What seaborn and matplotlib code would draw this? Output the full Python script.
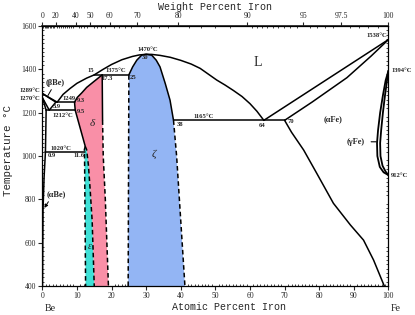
import numpy as np
import pandas as pd
import matplotlib
matplotlib.use("Agg")
import matplotlib.pyplot as plt
import seaborn as sns

# ---------------- data (atomic % Fe, temperature in °C) ----------------
y_ticks = [400, 600, 800, 1000, 1200, 1400, 1600]
x_ticks = [0, 10, 20, 30, 40, 50, 60, 70, 80, 90, 100]
wt_ticks = [0, 20, 40, 50, 60, 70, 80, 90, 95, 97.5, 100]
wt_tick_labels = ["0", "20", "40", "50", "60", "70", "80", "90", "95", "97.5", "100"]

liq_be_x = [0, 2.0, 4.3]
liq_be_T = [1289, 1270, 1249]
liq_mid_x = [4.3, 6, 8, 10, 12.8, 15, 17.5, 20, 23, 26, 28, 30, 31.6, 34, 37, 40, 43, 45.6, 48, 50.4, 52.8, 55.2, 57.7, 60, 62, 64]
liq_mid_T = [1249, 1285, 1312, 1336, 1360, 1375, 1400, 1423, 1445, 1460, 1467, 1470, 1469.5, 1465, 1456, 1442, 1425, 1405, 1378, 1351, 1328, 1303, 1275, 1242, 1207, 1165]
liq_fe_x = [64, 100]
liq_fe_T = [1165, 1538]
sol_fe_x = [70, 78, 88, 95, 100]
sol_fe_T = [1165, 1250, 1362, 1462, 1538]
afe_solvus_x = [70, 72, 75.5, 79.3, 84.1, 89, 92.8, 95.7, 98.8]
afe_solvus_T = [1165, 1110, 1028, 920, 782, 682, 612, 520, 400]
gam_out_x = [100, 99.2, 98.4, 97.6, 97.0, 96.7, 96.8, 97.5, 98.6, 100]
gam_out_T = [1394, 1350, 1280, 1200, 1120, 1060, 1000, 950, 925, 912]
gam_in_x = [100, 99.6, 99.0, 98.4, 97.9, 97.6, 97.7, 98.3, 99.2, 100]
gam_in_T = [1394, 1350, 1280, 1200, 1120, 1060, 1000, 955, 928, 912]

bbe_sol_x = [0, 3.9]
bbe_sol_T = [1289, 1249]
bbe_solv_x = [3.9, 2.0]
bbe_solv_T = [1249, 1212]
bbe_low_x = [0, 2.0]
bbe_low_T = [1270, 1212]
abe_up_x = [0, 1.1]
abe_up_T = [1270, 1212]
abe_solv_x = [1.1, 0.9, 0.5, 0.2, 0.05]
abe_solv_T = [1212, 1020, 900, 750, 400]

# invariant horizontals: temperature, x start, x end
inv_T = [1375, 1249, 1212, 1165, 1020]
inv_x0 = [15, 3.9, 1.1, 37.9, 0.9]
inv_x1 = [25, 9.3, 9.5, 70, 12.2]

delta_top_x = [17.3, 14.8, 12.8, 11.4, 10.1, 9.3, 9.5, 12.4]
delta_top_T = [1375, 1343, 1317, 1292, 1271, 1249, 1212, 1045]
eps_right_x = [12.4, 12.8, 13.3, 13.8, 14.4, 15.0]
eps_right_T = [1045, 1030, 960, 850, 700, 400]
delta_rs_x = [17.3, 17.4]
delta_rs_T = [1375, 1165]
delta_rd_x = [17.4, 17.6, 18.2, 19.1]
delta_rd_T = [1165, 1000, 800, 400]
eps_left_x = [12.4, 12.15, 12.2, 12.3, 12.5]
eps_left_T = [1045, 1030, 1000, 800, 400]

zeta_left_x = [24.8, 25.0]
zeta_left_T = [400, 1375]
zeta_top_x = [25, 26.1, 27.3, 28.7, 30, 31.6, 32.9, 34, 35.5, 36.9, 37.9]
zeta_top_T = [1375, 1412, 1443, 1466, 1470, 1466, 1443, 1412, 1336, 1258, 1165]
zeta_right_x = [37.9, 38.8, 39.6, 40.4, 41.2]
zeta_right_T = [1165, 1000, 800, 600, 400]

# ---------------- figure ----------------
sns.set_theme(style="white")
plt.rcParams["font.family"] = ["Liberation Serif", "DejaVu Serif"]

fig = plt.figure(figsize=(4.15, 3.15), dpi=100)
ax = fig.add_axes([0.102, 0.092, 0.834, 0.825])

pink, cyan, blue = "#f98fa7", "#3fe0d6", "#93b5f4"

# filled phase fields
ax.fill(delta_top_x + eps_right_x[1:] + delta_rd_x[::-1] + delta_rs_x[::-1],
        delta_top_T + eps_right_T[1:] + delta_rd_T[::-1] + delta_rs_T[::-1],
        color=pink, lw=0, zorder=1)
ax.fill(eps_left_x + eps_right_x[::-1], eps_left_T + eps_right_T[::-1],
        color=cyan, lw=0, zorder=1)
ax.fill(zeta_left_x + zeta_top_x[1:] + zeta_right_x[1:],
        zeta_left_T + zeta_top_T[1:] + zeta_right_T[1:],
        color=blue, lw=0, zorder=1)


def line(xs, ts, ls="-", lw=1.1):
    df = pd.DataFrame({"x": xs, "T": ts})
    sns.lineplot(data=df, x="x", y="T", sort=False, estimator=None, ax=ax,
                 color="black", lw=lw, linestyle=ls, zorder=3)


for xs, ts in [(liq_be_x, liq_be_T), (liq_mid_x, liq_mid_T), (liq_fe_x, liq_fe_T),
               (sol_fe_x, sol_fe_T), (afe_solvus_x, afe_solvus_T),
               (bbe_sol_x, bbe_sol_T), (bbe_solv_x, bbe_solv_T), (bbe_low_x, bbe_low_T),
               (abe_up_x, abe_up_T), (abe_solv_x, abe_solv_T),
               (delta_top_x, delta_top_T), (delta_rs_x, delta_rs_T), (zeta_top_x, zeta_top_T)]:
    line(xs, ts)
line(gam_out_x, gam_out_T, lw=1.3)
line(gam_in_x, gam_in_T, lw=1.3)
for xs, ts in [(eps_right_x, eps_right_T), (delta_rd_x, delta_rd_T), (eps_left_x, eps_left_T),
               (zeta_left_x, zeta_left_T), (zeta_right_x, zeta_right_T)]:
    line(xs, ts, ls=(0, (3, 2)))
for t, a, b in zip(inv_T, inv_x0, inv_x1):
    line([a, b], [t, t])

# ---------------- axes ----------------
ax.set_xlim(0, 100)
ax.set_ylim(400, 1600)
ax.set_xticks(x_ticks)
ax.set_yticks(y_ticks)
ax.set_xticks(np.arange(0, 101, 1), minor=True)
ax.set_yticks(np.arange(400, 1601, 20), minor=True)
ax.set_xlabel("")
ax.set_ylabel("")
ax.tick_params(which="major", direction="out", length=3, width=0.8, labelsize=5.5, pad=1.5,
               left=True, bottom=True, right=False, top=False)
ax.tick_params(which="minor", direction="in", length=1.5, width=0.6,
               left=True, bottom=True, right=True, top=False)
for s in ax.spines.values():
    s.set_color("black")
    s.set_linewidth(0.9)


def at2wt(a):
    a = np.asarray(a, dtype=float)
    return 100 * a * 55.845 / (a * 55.845 + (100 - a) * 9.012)


def wt2at(w):
    w = np.asarray(w, dtype=float)
    return 100 * (w / 55.845) / (w / 55.845 + (100 - w) / 9.012)


sec = ax.secondary_xaxis("top", functions=(at2wt, wt2at))
sec.set_xticks(wt_ticks)
sec.set_xticklabels(wt_tick_labels)
sec.set_xticks(list(np.arange(0, 90, 2)) + list(np.arange(90, 100, 0.5)), minor=True)
sec.tick_params(which="major", direction="out", length=3, width=0.8, labelsize=5.5, pad=1.5)
sec.tick_params(which="minor", direction="in", length=1.5, width=0.6)

mono = ["Liberation Mono", "DejaVu Sans Mono"]
ax.text(0.5, 1.075, "Weight Percent Iron", transform=ax.transAxes, ha="center", va="center",
        fontsize=7.2, family=mono)
ax.text(0.54, -0.082, "Atomic Percent Iron", transform=ax.transAxes, ha="center", va="center",
        fontsize=7.2, family=mono)
ax.text(-0.1, 0.52, "Temperature °C", transform=ax.transAxes, ha="center", va="center",
        rotation=90, fontsize=7.8, family=mono)
ax.text(0.022, -0.085, "Be", transform=ax.transAxes, ha="center", va="center", fontsize=7.2)
ax.text(1.02, -0.085, "Fe", transform=ax.transAxes, ha="center", va="center", fontsize=7.2)

# ---------------- annotations ----------------
small = dict(fontsize=4.8, fontweight="bold", zorder=5)
ax.text(62.3, 1434, "L", fontsize=10, ha="center", va="center")
ax.text(84, 1172, "(αFe)", fontsize=6, ha="center", va="center", fontweight="bold")
ax.text(90.5, 1066, "(γFe)", fontsize=6, ha="center", va="center", fontweight="bold")
ax.annotate("", xy=(97.3, 1066), xytext=(94.2, 1066),
            arrowprops=dict(arrowstyle="-", lw=0.8, color="black"))
ax.text(3.8, 1338, "(βBe)", fontsize=6, ha="center", va="center", fontweight="bold")
ax.annotate("", xy=(1.2, 1268), xytext=(3.0, 1318),
            arrowprops=dict(arrowstyle="-", lw=0.7, color="black"))
ax.text(4.0, 822, "(αBe)", fontsize=6, ha="center", va="center", fontweight="bold")
ax.annotate("", xy=(0.15, 750), xytext=(2.2, 800),
            arrowprops=dict(arrowstyle="-|>", lw=0.7, color="black", mutation_scale=5))
ax.text(14.3, 1150, "δ", fontsize=8, ha="center", va="center", style="italic")
ax.text(32.2, 1010, "ζ", fontsize=8, ha="center", va="center", style="italic")
ax.text(13.8, 582, "ε", fontsize=7, ha="center", va="center", style="italic")

ax.text(30.5, 1492, "1470°C", ha="center", va="center", **small)
ax.text(29.7, 1455, "30", ha="center", va="center", **small)
ax.text(21.2, 1393, "1375°C", ha="center", va="center", **small)
ax.text(13.9, 1393, "15", ha="center", va="center", **small)
ax.text(18.7, 1356, "17.3", ha="center", va="center", **small)
ax.text(26.3, 1362, "25", ha="center", va="center", **small)
ax.text(7.6, 1265, "1249", ha="center", va="center", **small)
ax.text(4.2, 1231, "3.9", ha="center", va="center", **small)
ax.text(11.2, 1258, "9.3", ha="center", va="center", **small)
ax.text(11.2, 1204, "9.5", ha="center", va="center", **small)
ax.text(6.0, 1189, "1212°C", ha="center", va="center", **small)
ax.text(-0.6, 1302, "1289°C", ha="right", va="center", clip_on=False, **small)
ax.text(-0.6, 1266, "1270°C", ha="right", va="center", clip_on=False, **small)
ax.text(5.3, 1036, "1020°C", ha="center", va="center", **small)
ax.text(2.7, 1004, "0.9", ha="center", va="center", **small)
ax.text(10.6, 1002, "11.6", ha="center", va="center", **small)
ax.text(46.5, 1181, "1165°C", ha="center", va="center", **small)
ax.text(39.8, 1145, "38", ha="center", va="center", **small)
ax.text(63.5, 1140, "64", ha="center", va="center", **small)
ax.text(71.8, 1158, "70", ha="center", va="center", **small)
ax.text(99.6, 1556, "1538°C", ha="right", va="center", **small)
ax.text(100.8, 1397, "1394°C", ha="left", va="center", clip_on=False, **small)
ax.text(100.8, 912, "912°C", ha="left", va="center", clip_on=False, **small)

fig.savefig("out.png", dpi=100)
